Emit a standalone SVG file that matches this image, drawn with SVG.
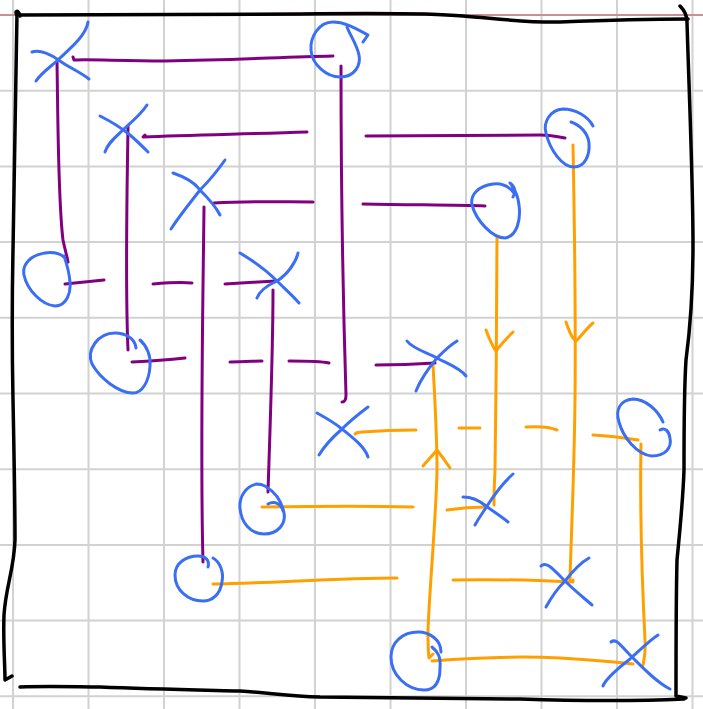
<svg xmlns="http://www.w3.org/2000/svg" width="703" height="709" viewBox="0 0 703 709">
<style>
.grid{stroke:#d2d2d2;stroke-width:2;fill:none}
.pink{stroke:#c98d9c;stroke-width:2;fill:none}
.border{stroke:#000;stroke-width:3.5;fill:none;stroke-linecap:round;stroke-linejoin:round}
.p{stroke:#800080;stroke-width:3;fill:none;stroke-linecap:round;stroke-linejoin:round}
.o{stroke:#ffa000;stroke-width:3;fill:none;stroke-linecap:round;stroke-linejoin:round}
.b{stroke:#3a6ff3;stroke-width:3;fill:none;stroke-linecap:round;stroke-linejoin:round}
</style>
<rect width="703" height="709" fill="#fff"/>
<g id="grid">
<path class="grid" d="M13,0V709M88.5,0V709M164,0V709M239.5,0V709M315,0V709M390.5,0V709M466,0V709M541.5,0V709M617,0V709M692.5,0V709"/>
<path class="grid" d="M0,90.7H703M0,166.4H703M0,242.1H703M0,317.8H703M0,393.5H703M0,469.2H703M0,544.9H703M0,620.6H703M0,696.3H703"/>
<path class="pink" d="M0,15H703"/>
</g>
<g id="frame">
<path class="border" d="M20,16 C18,9 14,11 17,15 C100,15 200,14 300,14 C380,13 430,13 463,16 C500,19 530,23 560,22 C610,20 650,19 688,19"/>
<path class="border" d="M680,6 C685,11 687,15 687,22 C689,90 693,180 693,245 C693,290 690,330 686,360 C684,390 684,440 684,470 C683,500 680,530 677,560 C676,600 676,650 676,696 L686,698"/>
<path class="border" d="M20,687 C50,686 80,687 100,687 C150,689 200,690 240,691 C270,693 290,696 320,697 C400,698 463,698 520,699 C580,701 640,701 684,699"/>
<path class="border" d="M17,13 C16,60 15,150 13,250 C12,300 12,350 13,400 C14,450 15,500 15,540 C14,570 6,585 4,615 C3,640 5,665 5,680 L12,676"/>
</g>
<g id="connectors">
<path class="p" d="M333,56 C280,57 240,60 165,61 C120,61 90,59 74,60 L73,57"/>
<path class="p" d="M341,66 C341,150 343,300 346,395 C346,400 345,402 342,402"/>
<path class="p" d="M57,62 C58,120 58,200 63,240 C65,250 67,256 68,262"/>
<path class="p" d="M565,138 C555,136 548,135 540,135 C480,135 420,136 366,136"/>
<path class="p" d="M307,132 C250,134 190,135 143,137 L145,135"/>
<path class="p" d="M128,126 C127,200 125,280 128,350"/>
<path class="p" d="M485,206 C460,205 420,205 363,204"/>
<path class="p" d="M313,202 C280,202 250,201 214,203"/>
<path class="p" d="M204,207 C203,300 200,450 203,562"/>
<path class="p" d="M65,284 L104,280"/>
<path class="p" d="M153,284 C165,283 180,282 192,283"/>
<path class="p" d="M225,284 C240,283 260,282 276,281"/>
<path class="p" d="M273,290 C273,350 270,430 268,492"/>
<path class="p" d="M132,362 C150,361 165,360 185,358"/>
<path class="p" d="M230,362 C245,362 255,361 262,361"/>
<path class="p" d="M289,361 C305,361 320,361 329,363"/>
<path class="p" d="M376,365 C400,365 420,364 435,363"/>
<path class="o" d="M573,145 C574,200 576,300 575,400 C574,480 571,540 570,580"/>
<path class="o" d="M566,322 C569,330 571,338 576,341 C582,335 587,328 593,323"/>
<path class="o" d="M497,238 C497,300 496,400 495,470 C494,490 494,500 494,505"/>
<path class="o" d="M486,330 C489,338 492,346 496,351 C502,343 508,337 513,332"/>
<path class="o" d="M638,440 C625,438 610,436 593,435"/>
<path class="o" d="M526,427 C540,426 550,427 557,430"/>
<path class="o" d="M459,428 L480,428"/>
<path class="o" d="M416,430 C395,430 375,431 362,432 C358,432 356,433 355,434"/>
<path class="o" d="M433,365 C435,400 437,440 437,470 C436,520 430,580 428,630 C428,645 428,652 429,658 L433,654"/>
<path class="o" d="M423,466 C428,460 433,455 437,450 C441,455 446,462 450,468"/>
<path class="o" d="M262,507 C320,506 380,506 413,507"/>
<path class="o" d="M447,510 C460,508 475,507 486,507"/>
<path class="o" d="M213,584 C270,583 340,578 397,578"/>
<path class="o" d="M453,580 C490,579 530,580 573,582 L573,580"/>
<path class="o" d="M432,661 C470,658 520,656 560,658 C590,660 615,662 633,664"/>
<path class="o" d="M641,444 C640,500 642,580 645,640 C646,652 644,660 643,665"/>
</g>
<g id="circleA"><path class="b" d="M363,42 L368,35 C355,28 345,22 333,22 C318,22 310,38 311,50 C312,65 327,77 340,77 C355,77 361,65 359,55 C357,45 350,35 347,27"/></g>
<g id="circleB"><path class="b" d="M593,126 C588,116 575,109 563,109 C550,110 543,122 546,133 C550,150 562,167 574,167 C585,167 590,155 589,143 C588,133 580,125 571,122"/></g>
<g id="circleC"><path class="b" d="M510,183 C515,187 516,192 513,197 M514,193 C507,184 500,183 493,184 C478,186 470,195 472,205 C476,220 492,238 505,238 C517,236 521,220 519,205 C518,196 515,190 512,186"/></g>
<g id="circleD"><path class="b" d="M64,257 C58,252 52,252 45,253 C30,255 22,265 24,275 C27,290 42,305 55,306 C67,306 71,292 70,282 C69,270 66,262 64,256"/></g>
<g id="circleE"><path class="b" d="M140,340 C147,346 151,356 150,366 C149,382 142,393 133,393 C118,393 100,378 92,364 C86,350 98,333 115,333 C125,333 135,338 136,348"/></g>
<g id="circleF"><path class="b" d="M663,422 C658,410 645,399 633,399 C620,400 615,410 619,422 C623,437 637,455 652,456 C665,456 672,448 670,438 C669,431 665,427 660,430"/></g>
<g id="circleG"><path class="b" d="M257,484 C245,486 239,498 240,508 C241,522 250,534 264,534 C278,534 286,524 284,513 C282,502 275,492 265,486 C261,484 259,484 257,484 M268,504 C275,500 282,505 283,511"/></g>
<g id="circleH"><path class="b" d="M213,558 C220,562 224,572 222,582 C220,595 212,601 203,601 C188,601 175,590 175,575 C175,563 186,556 198,556 C205,556 210,560 208,567"/></g>
<g id="circleI"><path class="b" d="M432,647 C438,652 441,657 440,668 C440,680 436,690 424,690 C407,690 391,675 391,657 C391,642 403,632 418,632 C430,632 441,640 441,652"/></g>
<g id="cross1"><path class="b" d="M32,52 C40,49 52,55 60,61 C70,68 80,72 89,79 M36,81 C42,72 52,66 60,58 C72,47 86,35 88,22"/></g>
<g id="cross2"><path class="b" d="M100,116 C112,122 124,130 130,135 C137,141 143,147 148,152 M105,152 C108,142 118,135 125,128 C134,120 142,113 147,105"/></g>
<g id="cross3"><path class="b" d="M173,173 C185,177 195,183 200,190 C208,198 215,205 220,215 M171,229 C180,215 190,203 200,190 C210,180 218,170 225,160"/></g>
<g id="cross4"><path class="b" d="M240,253 C255,262 268,272 277,281 C285,289 293,296 299,303 M257,298 C260,290 268,285 277,281 C288,274 296,262 298,253"/></g>
<g id="cross5"><path class="b" d="M407,341 C412,348 425,352 437,358 C448,364 460,368 466,376 M416,391 C420,381 427,370 437,358 C445,350 452,344 457,341"/></g>
<g id="cross6"><path class="b" d="M317,413 C328,419 336,424 342,429 C352,437 365,447 368,457 M319,455 C325,445 334,436 342,429 C350,421 360,413 368,407"/></g>
<g id="cross7"><path class="b" d="M463,497 C472,497 480,501 486,506 C494,512 502,517 508,522 M475,525 C480,516 484,511 487,506 C494,495 504,482 513,474"/></g>
<g id="cross8"><path class="b" d="M541,566 C546,561 552,568 565,581 C574,590 584,598 592,605 M546,607 C552,596 558,588 565,581 C572,572 580,563 589,558"/></g>
<g id="cross9"><path class="b" d="M611,642 C616,638 620,645 630,655 C642,667 656,682 670,689 M603,686 C605,680 618,668 630,659 C640,650 650,640 658,635"/></g>
</svg>
